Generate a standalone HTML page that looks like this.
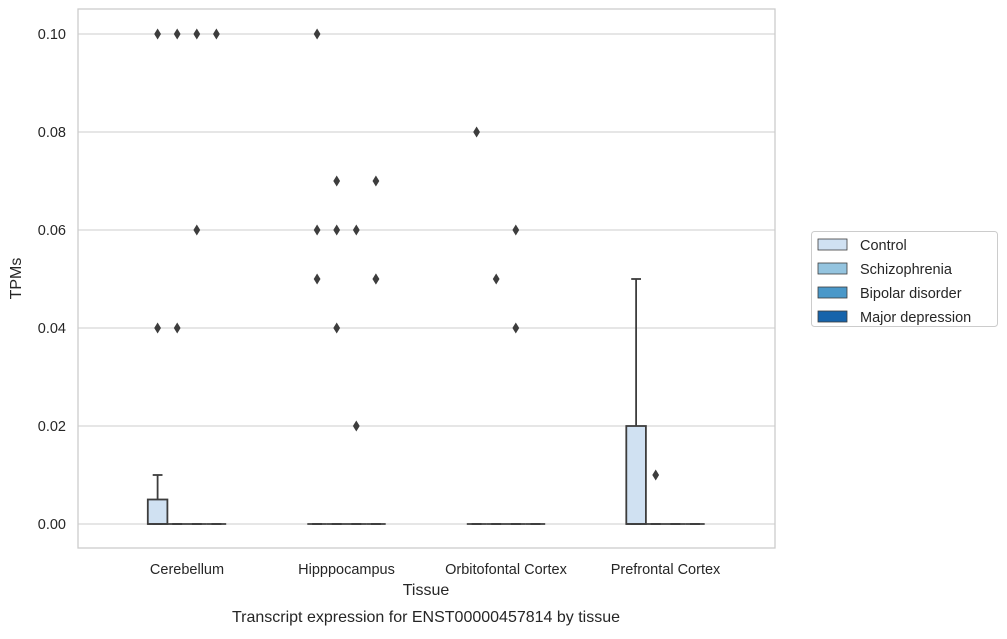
<!DOCTYPE html>
<html><head><meta charset="utf-8"><style>
body{margin:0;background:#fff;font-family:"Liberation Sans","DejaVu Sans",sans-serif}
</style></head><body>
<svg id="chart" width="1007" height="634" xmlns="http://www.w3.org/2000/svg" font-family="Liberation Sans, DejaVu Sans, sans-serif"></svg>
<script>
const categories=["Cerebellum","Hipppocampus","Orbitofontal Cortex","Prefrontal Cortex"];
const hues=["Control","Schizophrenia","Bipolar disorder","Major depression"];
const colors=["#d0e1f2","#94c4df","#4a98c9","#1764ab"];
const yTicks=[0,0.02,0.04,0.06,0.08,0.10];
const yTickLabels=["0.00","0.02","0.04","0.06","0.08","0.10"];
// [q1, median, q3, whiskerLow, whiskerHigh] per category per hue
const boxStats=[
 [[0,0,0.005,0,0.01],[0,0,0,0,0],[0,0,0,0,0],[0,0,0,0,0]],
 [[0,0,0,0,0],[0,0,0,0,0],[0,0,0,0,0],[0,0,0,0,0]],
 [[0,0,0,0,0],[0,0,0,0,0],[0,0,0,0,0],[0,0,0,0,0]],
 [[0,0,0.02,0,0.05],[0,0,0,0,0],[0,0,0,0,0],[0,0,0,0,0]]
];
const outliers=[
 [[0.04,0.10],[0.04,0.10],[0.06,0.10],[0.10]],
 [[0.05,0.06,0.10],[0.04,0.06,0.07],[0.02,0.06],[0.05,0.05,0.07]],
 [[0.08],[0.05],[0.04,0.06],[]],
 [[],[0.01],[],[]]
];
const svg=document.getElementById('chart');
const NS="http://www.w3.org/2000/svg";
function mk(t,a,p){const e=document.createElementNS(NS,t);for(const k in a)e.setAttribute(k,a[k]);(p||svg).appendChild(e);return e;}
const L=78,R=775,T=9,B=548;
const y=v=>524-(v/0.02)*98;
const catStep=159.5;
const xc=i=>187+catStep*i;
const slot=19.6;
const xh=(i,h)=>xc(i)+(h-1.5)*slot;
yTicks.forEach((v,i)=>{
 const g=mk('line',{x1:L,x2:R,y1:y(v),y2:y(v),stroke:'#cccccc','stroke-width':1});
 
 const t=mk('text',{x:L-12,y:y(v)+5,'text-anchor':'end','font-size':14.5,fill:'#262626'});
 t.textContent=yTickLabels[i];
 
});
const fr=mk('rect',{x:L,y:T,width:R-L,height:B-T,fill:'none',stroke:'#cccccc','stroke-width':1.3});

categories.forEach((c,i)=>{
 const t=mk('text',{x:xc(i),y:574,'text-anchor':'middle','font-size':14.5,fill:'#262626'});
 t.textContent=c;
 hues.forEach((h,j)=>{
  const s=boxStats[i][j],cx=xh(i,j),w=slot;
  const g=mk('g',{});
  mk('line',{x1:cx,x2:cx,y1:y(s[2]),y2:y(s[4]),stroke:'#3d3d3d','stroke-width':1.8},g);
  mk('line',{x1:cx-w/4,x2:cx+w/4,y1:y(s[4]),y2:y(s[4]),stroke:'#3d3d3d','stroke-width':1.8},g);
  mk('line',{x1:cx-w/4,x2:cx+w/4,y1:y(s[3]),y2:y(s[3]),stroke:'#3d3d3d','stroke-width':1.8},g);
  mk('rect',{x:cx-w/2,y:y(s[2]),width:w,height:Math.max(0,y(s[0])-y(s[2])),fill:colors[j],stroke:'#3d3d3d','stroke-width':1.8},g);
  mk('line',{x1:cx-w/2,x2:cx+w/2,y1:y(s[1]),y2:y(s[1]),stroke:'#3d3d3d','stroke-width':1.8},g);
  outliers[i][j].forEach(v=>{
   const o=mk('path',{d:`M${cx},${y(v)-5.5}L${cx+3.4},${y(v)}L${cx},${y(v)+5.5}L${cx-3.4},${y(v)}Z`,fill:'#3d3d3d'});
   
  });
 });
});
function txt(s,a,name){const t=mk('text',a);t.textContent=s;}
txt('Tissue',{x:426,y:595,'text-anchor':'middle','font-size':16,fill:'#262626'},'x-axis-title');
txt('TPMs',{x:21,y:(T+B)/2,'text-anchor':'middle','font-size':16,fill:'#262626',transform:`rotate(-90 21 ${(T+B)/2})`},'y-axis-title');
txt('Transcript expression for ENST00000457814 by tissue',{x:426,y:622,'text-anchor':'middle','font-size':16,fill:'#262626'},'chart-title');
const lg=mk('g',{});
mk('rect',{x:811.5,y:231.5,width:186,height:95,rx:3,fill:'#fff',stroke:'#cccccc'},lg);
hues.forEach((h,j)=>{
 const e=mk('g',{},lg);
 mk('rect',{x:818,y:239+j*24,width:29,height:11,fill:colors[j],stroke:'#3d3d3d','stroke-width':0.8},e);
 const t=mk('text',{x:860,y:250+j*24,'font-size':14.5,fill:'#262626'},e);t.textContent=h;
});
</script>
</body></html>
